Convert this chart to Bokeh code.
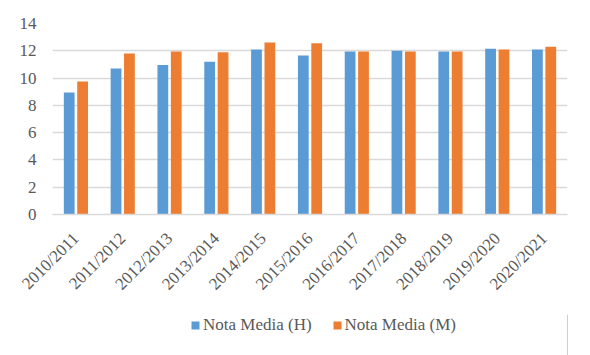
import math
from bokeh.plotting import figure
from bokeh.layouts import column
from bokeh.models import ColumnDataSource, FactorRange, Legend, LegendItem, SingleIntervalTicker, Range1d
from bokeh.transform import dodge
from bokeh.embed import file_html
from bokeh.resources import INLINE

years = ["2010/2011", "2011/2012", "2012/2013", "2013/2014", "2014/2015", "2015/2016",
         "2016/2017", "2017/2018", "2018/2019", "2019/2020", "2020/2021"]
nota_h = [8.95, 10.7, 10.95, 11.2, 12.1, 11.65, 11.95, 12.0, 11.95, 12.15, 12.1]
nota_m = [9.75, 11.8, 11.95, 11.9, 12.6, 12.55, 11.95, 11.95, 11.95, 12.1, 12.3]
series_names = ["Nota Media (H)", "Nota Media (M)"]
colors = ["#5b9bd5", "#ed7d31"]

FONT = "Liberation Serif"
GREY = "#595959"

src = ColumnDataSource(dict(year=years, h=nota_h, m=nota_m))

p = figure(width=590, height=314, x_range=FactorRange(*years, range_padding=0),
           y_range=(0, 14), output_backend="svg", toolbar_location=None,
           min_border_left=52, min_border_right=23, min_border_top=23, min_border_bottom=100)
p.outline_line_color = None

p.vbar(x=dodge("year", -0.143, range=p.x_range), top="h", width=0.23, source=src,
       fill_color=colors[0], line_color=None)
p.vbar(x=dodge("year", 0.143, range=p.x_range), top="m", width=0.23, source=src,
       fill_color=colors[1], line_color=None)

p.xgrid.grid_line_color = None
p.ygrid.grid_line_color = "#d9d9d9"
p.ygrid.grid_line_width = 1.5
p.yaxis.ticker = SingleIntervalTicker(interval=2)
p.yaxis.axis_line_color = None
p.yaxis.major_tick_line_color = None
p.yaxis.minor_tick_line_color = None
p.yaxis.major_label_text_font = FONT
p.yaxis.major_label_text_font_size = "17px"
p.yaxis.major_label_text_color = GREY
p.yaxis.major_label_standoff = 10

p.xaxis.axis_line_color = "#d9d9d9"
p.xaxis.axis_line_width = 1.5
p.xaxis.major_tick_line_color = None
p.xaxis.minor_tick_line_color = None
p.xaxis.major_label_orientation = math.pi / 4
p.xaxis.major_label_text_font = FONT
p.xaxis.major_label_text_font_size = "17px"
p.xaxis.major_label_text_color = GREY
p.xaxis.major_label_standoff = 15

# legend strip below the chart (legend swatches use off-screen dummy bars)
p2 = figure(width=590, height=41, x_range=Range1d(0, 1), y_range=Range1d(0, 1),
            output_backend="svg", toolbar_location=None,
            min_border_left=0, min_border_right=0, min_border_top=0, min_border_bottom=0)
p2.outline_line_color = None
p2.axis.visible = False
p2.grid.grid_line_color = None
dummy = ColumnDataSource(dict(x=[5], top=[5]))
lh = p2.vbar(x="x", top="top", width=0.1, source=dummy, fill_color=colors[0], line_color=None)
lm = p2.vbar(x="x", top="top", width=0.1, source=dummy, fill_color=colors[1], line_color=None)

legend = Legend(items=[LegendItem(label=series_names[0], renderers=[lh]),
                       LegendItem(label=series_names[1], renderers=[lm])],
                orientation="horizontal", location=(138, 20))
legend.label_text_font = FONT
legend.label_text_font_size = "17px"
legend.label_text_color = GREY
legend.glyph_width = 10
legend.glyph_height = 10
legend.label_standoff = 3
legend.spacing = 20
legend.padding = 0
legend.margin = 0
legend.border_line_color = None
legend.background_fill_alpha = 0
p2.add_layout(legend, "center")

layout = column(p, p2, spacing=0)
open("out.html", "w").write(file_html(layout, INLINE))
